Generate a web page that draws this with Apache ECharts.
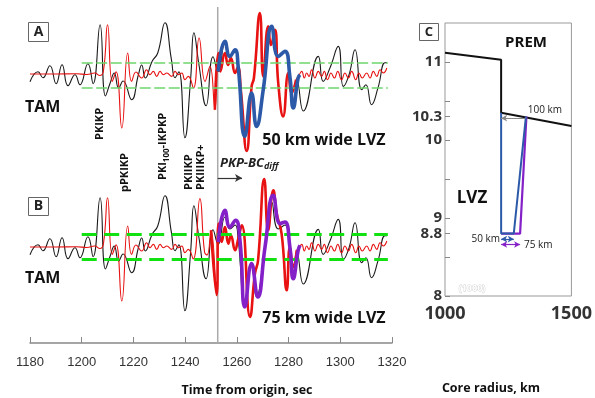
<!DOCTYPE html>
<html>
<head>
<meta charset="utf-8">
<script src="https://cdn.jsdelivr.net/npm/echarts@6/dist/echarts.min.js"></script>
<style>
  html, body { margin: 0; padding: 0; background: #fff; }
  #chart { width: 595px; height: 398px; }
</style>
</head>
<body>
<div id="chart"></div>
<script>
// time axis ticks (s)
const timeTicks = [1180, 1200, 1220, 1240, 1260, 1280, 1300, 1320];
const bcDiffOnset = 1252.6;

// observed TAM trace, [time, amplitude]
const tamTrace = [
  [1180, -7.7], [1183.1, 2.3], [1185.0, -3.7], [1187.7, 8.3], [1190.1, -9.7], [1192.4, 9.3],
  [1194.7, -11.7], [1197.4, -0.7], [1199.3, -10.7], [1202.4, 10.3], [1204.4, -9.7], [1207.1, 49.3],
  [1209.2, -22], [1211.0, -9], [1212.6, 1], [1214.3, -14], [1216.0, -7], [1219.3, -25.7],
  [1221.9, -1], [1223.2, 9], [1224.6, -4], [1227.2, 12.6], [1229.4, 21], [1232.2, 51.3],
  [1234.7, 14.3], [1236.1, -3.7], [1237.6, 2.3], [1239.9, -63.7], [1242.1, -5.7], [1243.4, 41.3],
  [1245.3, 10], [1248.1, -31.7], [1250.8, 17.3], [1252.8, 2.6], [1255.4, 30], [1257.3, 18],
  [1259.3, 22], [1260.5, 8], [1263.1, -58], [1265.7, -19], [1267.6, -50], [1270.2, -15],
  [1273.5, 45], [1276.0, 18], [1278.6, 22], [1280.5, -2], [1282.0, -28], [1283.3, -7],
  [1285.7, -37], [1291.5, 17.6], [1293.4, -7.4], [1296.0, 6], [1299.2, 27.6], [1301.2, -12.4],
  [1303.4, -0.7], [1305.7, 24.3], [1308.3, -15.7], [1309.9, -10.7], [1312.1, -30.7],
  [1314.6, -13.7], [1317.3, 11.3], [1318.1, 11.3]
];

// red synthetic, shared early / late parts
const redEarly = [
  [1180, 0], [1190, 0], [1198, 0.3], [1202, -0.5], [1205, 1], [1207, -1.5], [1208.4, 3],
  [1210.0, 49.3], [1211.8, -7.4], [1213.3, 2.3], [1215.5, -54], [1217.8, 21], [1219.3, -7.4],
  [1221.0, 2], [1223.2, -4], [1225.1, 4.3], [1226.4, -0.7], [1227.7, 2.6], [1229.0, -2.4],
  [1230.3, 2.6], [1231.6, -0.7], [1232.9, 1], [1234.8, -2.4], [1236.1, 2.6], [1237.4, -0.7],
  [1238.7, 1], [1239.9, -5.7], [1241.2, -2.4]
];
const redLate = [
  [1283.8, -2.4], [1285.1, 2.6], [1286.1, -4], [1287.0, 1], [1287.9, -2.4], [1288.9, 4.3],
  [1290.2, -4], [1291.5, 2.6], [1292.8, -2.4], [1293.8, 2.6], [1295.1, -5.7], [1296.4, 1],
  [1297.7, -4], [1299.0, 2.6], [1300.5, -5.7], [1301.8, 1], [1303.1, -4], [1304.4, 2.6],
  [1306.0, -5.7], [1307.2, 1], [1308.5, -4], [1310.2, 1], [1311.5, -4], [1312.8, 2.6],
  [1314.1, -2.4], [1315.4, 4.3], [1316.6, 1], [1318.0, 6]
];
// red synthetic around PKP-BCdiff, panel A and panel B
const redMidA = [
  [1243.2, -14], [1245.4, 36], [1247.7, -7.4], [1249.6, 7.6], [1251.5, -35.7], [1252.8, 21],
  [1253.6, 2.6], [1255.4, 21], [1256.6, 9], [1257.7, 16], [1259.3, 1], [1260.4, 7],
  [1261.6, -18], [1263.8, -77], [1265.7, -12.4], [1266.6, -4], [1268.9, 61], [1270.2, -2.4],
  [1272.1, 47.6], [1273.2, 29], [1274.7, 44.3], [1276.0, -9], [1277.9, -42.4], [1279.9, 1],
  [1281.2, -19], [1282.9, -5.7]
];
const redMidB = [
  [1243.1, -12], [1245.7, 48.4], [1247.5, -5], [1248.5, -8], [1250.0, 16.7], [1252.2, -48],
  [1252.9, 23.4], [1254.1, 5], [1255.4, 20], [1256.7, 3.4], [1257.7, 11.7], [1259.3, -3.3],
  [1260.4, 6.7], [1261.9, 21.7], [1265.1, -70], [1267.0, -26.6], [1268.2, -13.3],
  [1270.6, 68], [1272.1, 16.7], [1274.1, 56.7], [1275.4, 33.4], [1277.3, 13.4], [1279.3, -43.3],
  [1280.5, 0], [1281.8, -20], [1283.2, -3]
];

// LVZ synthetics
const lvz50 = [
  [1252.8, 2.6], [1255.4, 32.6], [1257.3, 17.6], [1259.3, 24.3], [1260.5, 7.6], [1263.1, -62.4],
  [1265.7, -19], [1267.6, -52.4], [1270.2, -15.7], [1273.5, 47.6], [1276.0, 17.6], [1278.6, 22.6],
  [1280.5, -2.4], [1281.8, -34], [1283.7, -4], [1284.4, -0.7]
];
const lvz75 = [
  [1252.8, 5], [1255.4, 36.7], [1257.3, 20], [1259.5, 26.7], [1261.2, 6.7], [1263.1, -60],
  [1265.7, -16.6], [1268.1, -50], [1270.9, 0], [1274.1, 51.7], [1276.7, 23.4], [1278.6, 25],
  [1280.5, 0], [1281.8, -31.6], [1283.7, -3.3], [1284.4, 1.7]
];

// noise band levels
const bandA = [11, -13.4];
const bandB = [12.7, -12.3];
const bandStart = 1200, bandEnd = 1318.4;

// panel C: P velocity (km/s) vs core radius (km)
const premModel = [[1000, 11.12], [1222, 11.03], [1222, 10.35], [1500, 10.18]];
const lvzModel50 = [[1222, 10.35], [1222, 8.8], [1272, 8.8], [1320, 10.3]];
const lvzModel75 = [[1222, 8.8], [1297, 8.8], [1322, 10.3]];
const velLabels = [8, 8.8, 9, 10, 10.3, 11];
const velTicks = [8, 8.5, 8.8, 9, 9.5, 10, 10.3, 10.5, 11];
const radiusLabels = [1000, 1500];

const chart = echarts.init(document.getElementById('chart'));
const sans = '"Open Sans", "DejaVu Sans", sans-serif';
const RED = '#e81212', BLUE = '#2d5aa8', PURPLE = '#8420c8', INK = '#1a1a1a';
const plain = v => String(v);

function bandLines(levels, style) {
  return {
    silent: true, symbol: ['none', 'none'], label: { show: false },
    lineStyle: style,
    data: levels.map(v => [{ coord: [bandStart, v] }, { coord: [bandEnd, v] }])
  };
}

function hiddenX(idx) {
  return { type: 'value', gridIndex: idx, min: 1180, max: 1320, show: false };
}

const option = {
  animation: false,
  grid: [
    { left: 30, width: 362, top: 4, height: 160 },
    { left: 30, width: 362, top: 170, height: 160 },
    { left: 30, width: 362, top: 7, height: 336 },
    { left: 445, width: 128, top: 23, height: 273, show: true, borderColor: '#999', borderWidth: 1 }
  ],
  xAxis: [
    hiddenX(0), hiddenX(1),
    {
      type: 'value', gridIndex: 2, min: 1180, max: 1320, position: 'bottom',
      axisLine: { onZero: false, lineStyle: { color: '#888', width: 1.5 } },
      axisTick: { inside: true, length: 6, customValues: timeTicks, lineStyle: { color: '#888' } },
      axisLabel: { customValues: timeTicks, formatter: plain, margin: 13, fontSize: 13, color: '#333', fontFamily: 'Liberation Sans' },
      splitLine: { show: false }
    },
    {
      type: 'value', gridIndex: 3, min: 1000, max: 1500,
      axisLine: { show: false }, axisTick: { show: false }, splitLine: { show: false },
      axisLabel: { customValues: radiusLabels, formatter: plain, margin: 9, fontSize: 18, fontWeight: 'bold', color: '#333', fontFamily: sans }
    }
  ],
  yAxis: [
    { type: 'value', gridIndex: 0, min: -90, max: 70, show: false },
    { type: 'value', gridIndex: 1, min: -83, max: 77, show: false },
    { type: 'value', gridIndex: 2, min: 0, max: 336, inverse: true, show: false },
    {
      type: 'value', gridIndex: 3, min: 8, max: 11.5,
      axisLine: { show: false }, splitLine: { show: false },
      axisTick: { customValues: velTicks, inside: true, length: 5, lineStyle: { color: '#888' } },
      axisLabel: { customValues: velLabels, formatter: plain, margin: 3, fontSize: 15, fontWeight: 'bold', color: '#333', fontFamily: sans }
    }
  ],
  series: [
    // panel A
    { type: 'line', xAxisIndex: 0, yAxisIndex: 0, data: tamTrace, smooth: 0.5, showSymbol: false,
      lineStyle: { color: INK, width: 1.1 }, z: 2 },
    { type: 'line', xAxisIndex: 0, yAxisIndex: 0, data: redEarly.concat(redMidA, redLate), smooth: 0.5, showSymbol: false,
      lineStyle: { color: RED, width: 1.1 }, z: 3,
      markLine: bandLines(bandA, { color: '#6cd66c', width: 1.6, type: [11, 3.5] }) },
    { type: 'line', xAxisIndex: 0, yAxisIndex: 0, data: redMidA.slice(4), smooth: 0.5, showSymbol: false,
      lineStyle: { color: RED, width: 2.6 }, z: 4 },
    { type: 'line', xAxisIndex: 0, yAxisIndex: 0, data: lvz50, smooth: 0.5, showSymbol: false,
      lineStyle: { color: BLUE, width: 3.6 }, z: 5 },
    // panel B
    { type: 'line', xAxisIndex: 1, yAxisIndex: 1, data: tamTrace, smooth: 0.5, showSymbol: false,
      lineStyle: { color: INK, width: 1.1 }, z: 2 },
    { type: 'line', xAxisIndex: 1, yAxisIndex: 1, data: redEarly.concat(redMidB, redLate), smooth: 0.5, showSymbol: false,
      lineStyle: { color: RED, width: 1.1 }, z: 3,
      markLine: bandLines(bandB, { color: '#11e011', width: 3, type: [15, 7.5] }) },
    { type: 'line', xAxisIndex: 1, yAxisIndex: 1, data: redMidB.slice(4), smooth: 0.5, showSymbol: false,
      lineStyle: { color: RED, width: 2.6 }, z: 4 },
    { type: 'line', xAxisIndex: 1, yAxisIndex: 1, data: lvz75, smooth: 0.5, showSymbol: false,
      lineStyle: { color: PURPLE, width: 3.6 }, z: 5 },
    // PKP-BCdiff onset line and arrow
    { type: 'line', xAxisIndex: 2, yAxisIndex: 2, data: [[bcDiffOnset, 0], [bcDiffOnset, 336]], showSymbol: false,
      lineStyle: { color: '#aaa', width: 1.5 }, z: 1,
      markLine: {
        silent: true, symbol: ['none', 'arrow'], symbolSize: [6, 7], label: { show: false },
        lineStyle: { color: '#333', width: 1.2, type: 'solid' },
        data: [[{ coord: [bcDiffOnset, 171] }, { coord: [1262, 171] }]]
      } },
    // panel C
    { type: 'line', xAxisIndex: 3, yAxisIndex: 3, data: premModel, showSymbol: false,
      lineStyle: { color: '#111', width: 2 }, z: 3,
      markLine: {
        silent: true, label: { show: false }, symbolSize: [5, 6],
        lineStyle: { type: 'solid' },
        data: [
          [{ coord: [1222, 10.28], symbol: 'arrow', lineStyle: { color: '#888', width: 1, type: 'solid' } },
           { coord: [1318, 10.28], symbol: 'none' }],
          [{ coord: [1222, 8.73], symbol: 'arrow', lineStyle: { color: BLUE, width: 1.2, type: 'solid' } },
           { coord: [1272, 8.73], symbol: 'arrow' }],
          [{ coord: [1222, 8.66], symbol: 'arrow', lineStyle: { color: PURPLE, width: 1.2, type: 'solid' } },
           { coord: [1297, 8.66], symbol: 'arrow' }]
        ]
      } },
    { type: 'line', xAxisIndex: 3, yAxisIndex: 3, data: lvzModel75, showSymbol: false,
      lineStyle: { color: PURPLE, width: 2.2 }, z: 3 },
    { type: 'line', xAxisIndex: 3, yAxisIndex: 3, data: lvzModel50, showSymbol: false,
      lineStyle: { color: BLUE, width: 2 }, z: 4 }
  ],
  graphic: [
    // panel tags
    { type: 'rect', shape: { x: 28.5, y: 22.5, width: 20, height: 19 }, style: { fill: '#fff', stroke: '#666', lineWidth: 1 } },
    { type: 'text', x: 38.5, y: 32, style: { text: 'A', font: 'bold 14px ' + sans, fill: '#222', align: 'center', verticalAlign: 'middle' } },
    { type: 'rect', shape: { x: 28.5, y: 197.5, width: 20, height: 18 }, style: { fill: '#fff', stroke: '#666', lineWidth: 1 } },
    { type: 'text', x: 38.5, y: 206.5, style: { text: 'B', font: 'bold 14px ' + sans, fill: '#222', align: 'center', verticalAlign: 'middle' } },
    { type: 'rect', shape: { x: 419.5, y: 23.5, width: 19, height: 17 }, style: { fill: '#fff', stroke: '#666', lineWidth: 1 } },
    { type: 'text', x: 429, y: 32, style: { text: 'C', font: 'bold 13px ' + sans, fill: '#222', align: 'center', verticalAlign: 'middle' } },
    // station names
    { type: 'text', x: 25, y: 107, style: { text: 'TAM', font: 'bold 16px ' + sans, fill: '#111', verticalAlign: 'middle' } },
    { type: 'text', x: 25, y: 278, style: { text: 'TAM', font: 'bold 16px ' + sans, fill: '#111', verticalAlign: 'middle' } },
    // phase names, rotated
    { type: 'text', x: 100, y: 140, rotation: Math.PI / 2, style: { text: 'PKIKP', font: 'bold 11px ' + sans, fill: '#111', align: 'left', verticalAlign: 'middle' } },
    { type: 'text', x: 125, y: 192, rotation: Math.PI / 2, style: { text: 'pPKIKP', font: 'bold 11px ' + sans, fill: '#111', align: 'left', verticalAlign: 'middle' } },
    { type: 'text', x: 163, y: 180, rotation: Math.PI / 2, style: {
        text: '{a|PKI}{s|100}{a|-IKPKP}', align: 'left', verticalAlign: 'middle',
        rich: { a: { font: 'bold 11px ' + sans, fill: '#111' }, s: { font: 'bold 8px ' + sans, fill: '#111', padding: [7, 0, 0, 0] } } } },
    { type: 'text', x: 189, y: 190, rotation: Math.PI / 2, style: { text: 'PKIIKP', font: 'bold 11px ' + sans, fill: '#111', align: 'left', verticalAlign: 'middle' } },
    { type: 'text', x: 201, y: 190, rotation: Math.PI / 2, style: { text: 'PKIIIKP+', font: 'bold 11px ' + sans, fill: '#111', align: 'left', verticalAlign: 'middle' } },
    { type: 'text', x: 220, y: 163, style: {
        text: '{a|PKP-BC}{s|diff}', verticalAlign: 'middle',
        rich: { a: { font: 'italic bold 13px ' + sans, fill: '#222' }, s: { font: 'italic bold 9px ' + sans, fill: '#222', padding: [6, 0, 0, 0] } } } },
    // LVZ captions
    { type: 'text', x: 324, y: 140, style: { text: '50 km wide LVZ', font: 'bold 16px ' + sans, fill: '#111', align: 'center', verticalAlign: 'middle' } },
    { type: 'text', x: 324, y: 318, style: { text: '75 km wide LVZ', font: 'bold 16px ' + sans, fill: '#111', align: 'center', verticalAlign: 'middle' } },
    // x axis title
    { type: 'text', x: 247, y: 390, style: { text: 'Time from origin, sec', font: 'bold 12.5px ' + sans, fill: '#111', align: 'center', verticalAlign: 'middle' } },
    // panel C text
    { type: 'text', x: 526, y: 43, style: { text: 'PREM', font: 'bold 15px ' + sans, fill: '#111', align: 'center', verticalAlign: 'middle' } },
    { type: 'text', x: 472, y: 198, style: { text: 'LVZ', font: 'bold 17px ' + sans, fill: '#111', align: 'center', verticalAlign: 'middle' } },
    { type: 'text', x: 545, y: 110, style: { text: '100 km', font: '10px ' + sans, fill: '#222', align: 'center', verticalAlign: 'middle' } },
    { type: 'text', x: 500, y: 239, style: { text: '50 km', font: '10px ' + sans, fill: '#222', align: 'right', verticalAlign: 'middle' } },
    { type: 'text', x: 524, y: 245, style: { text: '75 km', font: '10px ' + sans, fill: '#222', align: 'left', verticalAlign: 'middle' } },
    { type: 'text', x: 472, y: 288, style: { text: '(1000)', font: 'bold 9px ' + sans, fill: '#fff', stroke: '#ccc', lineWidth: 0.8, align: 'center', verticalAlign: 'middle' } },
    { type: 'text', x: 491, y: 388, style: { text: 'Core radius, km', font: 'bold 12.5px ' + sans, fill: '#111', align: 'center', verticalAlign: 'middle' } }
  ]
};

chart.setOption(option);
</script>
</body>
</html>
